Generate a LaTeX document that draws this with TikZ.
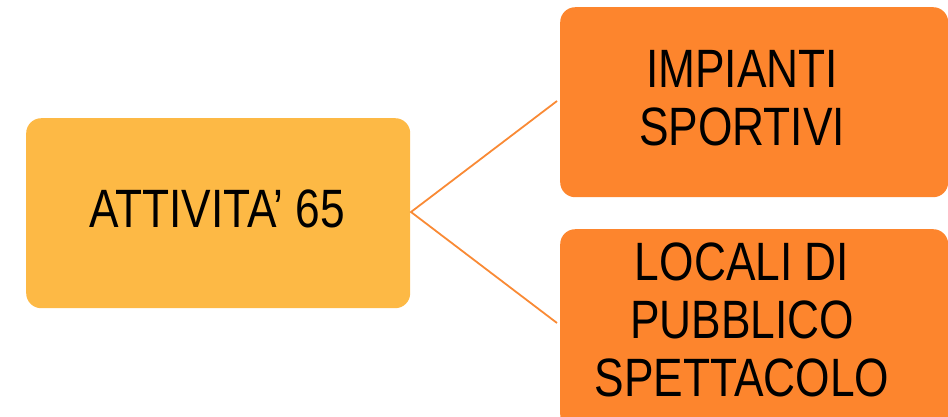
\documentclass[tikz,border=0pt]{standalone}
\usepackage{fontspec}
\setmainfont[FakeStretch=0.82]{Liberation Sans}
\definecolor{lightorange}{HTML}{FDB945}
\definecolor{deeporange}{HTML}{FD852D}
\definecolor{linkorange}{HTML}{F98A35}
\tikzset{
  box/.style={rounded corners=15pt, inner sep=0pt, anchor=north west},
  label text/.style={inner sep=0pt, align=center, text=black,
    font=\fontsize{54pt}{58pt}\selectfont},
  link/.style={draw=linkorange, line width=1.8pt}
}
\begin{document}
\begin{tikzpicture}[x=1pt,y=-1pt]
  \useasboundingbox (0,0) rectangle (948,416);
  % boxes
  \node[box, fill=lightorange, minimum width=384pt, minimum height=190pt] (main) at (26,118) {};
  \node[box, fill=deeporange, minimum width=388pt, minimum height=190pt] (top) at (560,7) {};
  \node[box, fill=deeporange, minimum width=388pt, minimum height=200pt] (bottom) at (560,229) {};
  % texts
  \node[label text] (maintext) at (217,209) {ATTIVITA’ 65};
  \node[label text] (toptext) at (742,98) {IMPIANTI\\SPORTIVI};
  \node[label text] (bottomtext) at (742,320) {LOCALI DI\\PUBBLICO\\SPETTACOLO};
  % connectors
  \coordinate (fork) at (411,212);
  \coordinate (topend) at (557,101);
  \coordinate (bottomend) at (557,323);
  \draw[link] (topend) -- (fork) -- (bottomend);
\end{tikzpicture}
\end{document}
